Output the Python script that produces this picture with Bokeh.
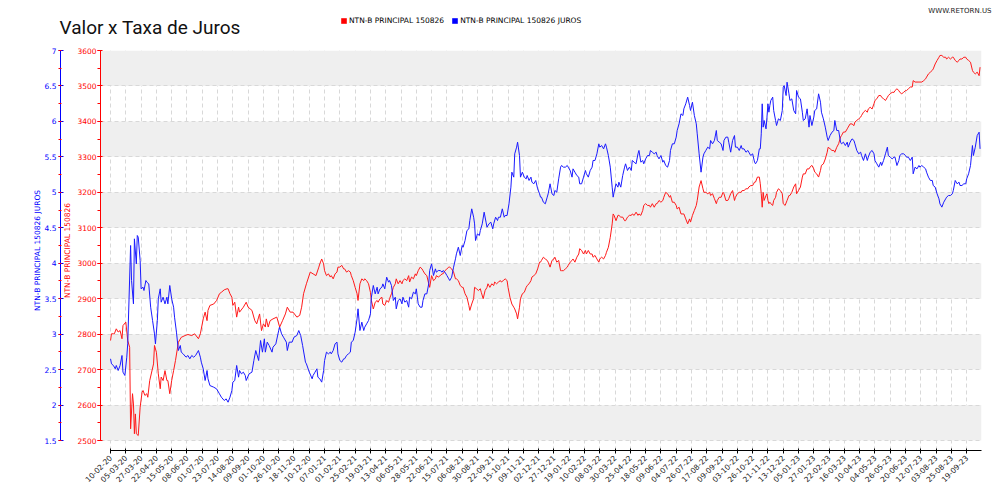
import math
from bokeh.plotting import figure
from bokeh.layouts import column
from bokeh.models import (Range1d, LinearAxis, FixedTicker, NumeralTickFormatter,
                          Legend, LegendItem, Label)
from bokeh.embed import file_html
from bokeh.resources import INLINE

# ---------------- data ----------------
tick_labels = ["10-02-20", "05-03-20", "27-03-20", "22-04-20", "15-05-20", "08-06-20", "01-07-20",
               "23-07-20", "14-08-20", "09-09-20", "01-10-20", "26-10-20", "18-11-20", "10-12-20",
               "07-01-21", "01-02-21", "25-02-21", "19-03-21", "13-04-21", "06-05-21", "28-05-21",
               "22-06-21", "15-07-21", "06-08-21", "30-08-21", "22-09-21", "15-10-21", "09-11-21",
               "02-12-21", "27-12-21", "19-01-22", "10-02-22", "08-03-22", "30-03-22", "25-04-22",
               "18-05-22", "09-06-22", "04-07-22", "26-07-22", "17-08-22", "09-09-22", "03-10-22",
               "26-10-22", "21-11-22", "13-12-22", "05-01-23", "27-01-23", "22-02-23", "16-03-23",
               "10-04-23", "04-05-23", "26-05-23", "20-06-23", "12-07-23", "03-08-23", "25-08-23",
               "19-09-23"]
tick_step = 16  # trading days between labelled dates

principal_ticks = [2500, 2600, 2700, 2800, 2900, 3000, 3100, 3200, 3300, 3400, 3500, 3600]
juros_ticks = [1.5, 2, 2.5, 3, 3.5, 4, 4.5, 5, 5.5, 6, 6.5, 7]

# NTN-B PRINCIPAL 150826 (price) : trading-day index, value
principal_day = [0, 1, 3, 4, 6, 8, 10, 12, 13, 16, 18, 20, 21, 23, 24, 25, 26, 27, 29, 31, 33, 34, 36,
                 38, 39, 41, 45, 46, 48, 50, 52, 53, 55, 57, 59, 60, 62, 64, 66, 68, 71, 74, 78, 81,
                 85, 88, 92, 94, 97, 99, 101, 102, 104, 108, 111, 114, 116, 119, 122, 123, 125, 127,
                 128, 130, 132, 134, 135, 139, 142, 144, 148, 151, 153, 155, 156, 158, 160, 162, 163,
                 165, 167, 170, 174, 177, 180, 183, 185, 188, 191, 195, 198, 200, 202, 205, 209, 212,
                 215, 218, 219,
                 221, 223, 224, 226, 228, 230, 231, 233, 235, 237, 238, 240, 242, 244, 245, 247, 249,
                 251, 252, 254, 256, 258, 259, 261, 263, 265, 266, 268, 270, 272, 273, 275, 277, 279,
                 280, 282, 284, 285, 287, 289, 291, 292, 294, 296, 298, 299, 301, 303, 305, 306, 308,
                 310, 312, 313, 315, 317, 319, 320, 322, 324, 326, 327, 329, 331, 333, 334, 336, 338,
                 340, 341, 343, 345, 347, 348, 350, 352, 354, 355, 357, 359, 361, 362, 364, 366, 368,
                 369, 371, 373, 375, 376, 378, 380, 381, 383, 385, 387, 388, 390, 392, 394, 395, 397,
                 399, 401, 402, 404, 406, 408, 409, 411, 413, 415, 416, 418, 420, 422, 423, 425, 426,
                 428, 429, 431, 433, 435, 436, 438, 440, 441, 443, 445, 447, 449,
                 450, 451, 453, 455, 457, 458, 460, 462, 464, 465, 467, 469, 471, 472, 474, 476, 478,
                 479, 481, 483, 484, 486, 488, 490, 491, 493, 495, 497, 498, 500, 502, 504, 505, 507,
                 509, 511, 512, 514, 516, 518, 519, 521, 523, 525, 526, 527, 529, 531, 532, 534, 536,
                 538, 539, 541, 543, 545, 546, 548, 550, 552, 553, 555, 557, 558, 560, 562, 564, 565,
                 567, 569, 571, 572, 574, 576, 578, 579, 581, 583, 585, 586, 588, 590, 592, 593, 595,
                 597, 599, 600, 602, 604, 606, 607, 609, 611, 613, 614, 616, 618, 620, 621, 623, 625,
                 627, 628, 630, 632, 634, 635, 637, 639, 641, 642, 644, 646, 647, 649, 651, 653, 654,
                 656, 658, 660, 661, 663, 665, 667, 668, 670, 672, 674, 675, 677, 679, 680,
                 681, 682, 683, 684, 686, 687, 688, 689, 690, 691, 693, 694, 696, 697, 699, 701, 703,
                 704, 706, 708, 710, 711, 713, 715, 717, 718, 720, 722, 724, 725, 727, 729, 731, 732,
                 734, 736, 737, 739, 741, 743, 744, 746, 748, 750, 751, 753, 755, 757, 758, 760, 762,
                 764, 765, 767, 769, 771, 772, 774, 776, 778, 779, 781, 783, 785, 786, 788, 790, 792,
                 793, 795, 797, 799, 800, 802, 804, 806, 807, 809, 811, 813, 814, 816, 818, 820, 821,
                 823, 825, 826, 828, 830, 832, 833, 835, 837, 839, 840, 842, 844, 846, 847, 849, 851,
                 853, 854, 856, 858, 860, 861, 863, 865, 867, 868, 870, 872, 874, 875, 877, 879, 881,
                 882, 884, 886, 888, 889, 891, 893, 895, 896, 898, 900, 902, 903, 905, 907, 909, 910]
principal = [2782, 2801, 2801, 2801, 2815, 2806, 2810, 2787, 2824, 2834, 2782, 2763, 2533, 2632, 2603,
             2519, 2575, 2519, 2514, 2594, 2636, 2641, 2627, 2632, 2622, 2669, 2716, 2768, 2749, 2688,
             2646, 2679, 2669, 2697, 2669, 2669, 2632, 2669, 2697, 2726, 2777, 2791, 2796, 2799, 2796,
             2801, 2787, 2801, 2843, 2862, 2838, 2867, 2881, 2885, 2895, 2914, 2918, 2925, 2928, 2928,
             2914, 2904, 2881, 2890, 2848, 2876, 2862, 2876, 2890, 2876, 2867, 2838, 2829, 2848, 2857,
             2810, 2829, 2820, 2843, 2820, 2838, 2843, 2848, 2820, 2838, 2857, 2876, 2862, 2862, 2848,
             2853, 2876, 2914, 2942, 2975, 2970, 2965, 2989, 2998,
             3012, 2998, 2979, 2965, 2970, 2961, 2965, 2956, 2970, 2975, 2989, 2989, 2994, 2984, 2984,
             2975, 2979, 2975, 2965, 2951, 2932, 2914, 2895, 2942, 2956, 2951, 2956, 2951, 2942, 2918,
             2895, 2871, 2890, 2895, 2890, 2900, 2904, 2885, 2881, 2895, 2890, 2900, 2914, 2932, 2942,
             2956, 2942, 2951, 2942, 2951, 2956, 2951, 2965, 2947, 2961, 2956, 2970, 2965, 2979, 2989,
             2984, 2979, 2970, 2965, 2942, 2932, 2965, 2951, 2956, 2965, 2961, 2965, 2970, 2970, 2979,
             2984, 2989, 2989, 2984, 2975, 2956, 2956, 2951, 2937, 2932, 2932, 2914, 2904, 2881, 2867,
             2885, 2900, 2932, 2928, 2923, 2928, 2918, 2900, 2923, 2932, 2942, 2932, 2942, 2937, 2947,
             2942, 2947, 2951, 2947, 2951, 2956, 2951, 2932, 2904, 2885, 2876, 2871, 2857, 2843, 2876,
             2900, 2914, 2918, 2932, 2937, 2942, 2951, 2961, 2965, 2970, 2984, 3003,
             3003, 3008, 3017, 3012, 3008, 3003, 2989, 3008, 3012, 3017, 3003, 3008, 2979, 2979, 2979,
             2984, 2989, 2994, 3003, 3008, 3012, 3003, 3017, 3026, 3041, 3036, 3026, 3036, 3026, 3036,
             3026, 3026, 3017, 3022, 3012, 3003, 3012, 3017, 3012, 3022, 3031, 3045, 3073, 3111, 3139,
             3135, 3120, 3135, 3135, 3130, 3130, 3120, 3120, 3130, 3135, 3135, 3139, 3135, 3144, 3135,
             3139, 3135, 3149, 3163, 3168, 3163, 3163, 3158, 3168, 3158, 3168, 3168, 3177, 3172, 3177,
             3186, 3200, 3196, 3186, 3191, 3172, 3172, 3163, 3153, 3158, 3139, 3139, 3139, 3125, 3111,
             3125, 3116, 3135, 3149, 3163, 3177, 3215, 3233, 3210, 3200, 3200, 3196, 3200, 3191, 3196,
             3182, 3168, 3177, 3186, 3186, 3200, 3196, 3177, 3177, 3182, 3196, 3205, 3177, 3186, 3196,
             3200, 3200, 3205, 3205, 3210, 3210, 3215, 3219, 3219, 3229, 3229, 3243, 3243, 3224,
             3196, 3158, 3200, 3177, 3191, 3196, 3177, 3168, 3172, 3168, 3163, 3177, 3186, 3200, 3210,
             3205, 3196, 3168, 3163, 3177, 3191, 3191, 3200, 3215, 3224, 3196, 3205, 3215, 3243, 3252,
             3252, 3266, 3266, 3271, 3276, 3266, 3257, 3252, 3243, 3262, 3276, 3280, 3294, 3313, 3327,
             3323, 3318, 3318, 3313, 3327, 3337, 3356, 3360, 3370, 3370, 3379, 3384, 3393, 3393, 3388,
             3398, 3403, 3407, 3412, 3417, 3426, 3431, 3426, 3435, 3440, 3435, 3450, 3459, 3464, 3473,
             3473, 3468, 3464, 3459, 3468, 3473, 3478, 3482, 3482, 3487, 3492, 3487, 3482, 3478, 3482,
             3487, 3487, 3492, 3497, 3497, 3515, 3511, 3511, 3511, 3511, 3511, 3515, 3520, 3525, 3534,
             3539, 3544, 3548, 3562, 3572, 3581, 3586, 3586, 3581, 3581, 3576, 3581, 3576, 3581, 3581,
             3572, 3567, 3572, 3576, 3576, 3581, 3581, 3576, 3572, 3567, 3544, 3539, 3534, 3539, 3529,
             3553]

# NTN-B PRINCIPAL 150826 JUROS (yield, %) : trading-day index, value
juros_day = [0, 1, 3, 5, 6, 8, 10, 12, 13, 15, 17, 18, 21, 22, 24, 25, 27, 28, 29, 31, 32, 34, 35, 37,
             38, 40, 42, 44, 46, 47, 49, 50, 52, 53, 55, 57, 59, 60, 62, 64, 66, 67, 69, 71, 73, 74,
             76, 79, 81, 83, 85, 87, 89, 92, 94, 95, 97, 99, 101, 102, 104, 108, 111, 114, 116, 119,
             121, 123, 125, 127, 128, 130, 132, 134, 135, 137, 139, 141, 142, 145, 148, 150, 152, 155,
             157, 159, 161, 162, 164, 166, 169, 170, 173, 176, 177, 179, 181, 184, 185, 187, 190, 192,
             195, 197, 199, 201, 204, 205, 208, 211, 212, 214, 216, 217, 219,
             221, 223, 224, 226, 228, 230, 231, 233, 235, 237, 238, 240, 242, 244, 245, 247, 249, 251,
             252, 254, 256, 258, 259, 261, 263, 265, 266, 268, 270, 272, 273, 275, 277, 279, 280, 282,
             284, 285, 287, 289, 291, 292, 294, 296, 298, 299, 301, 303, 305, 306, 308, 310, 312, 313,
             315, 317, 319, 320, 322, 324, 326, 327, 329, 331, 333, 334, 336, 338, 340, 341, 343, 345,
             347, 348, 350, 352, 354, 355, 357, 359, 361, 362, 364, 366, 368, 369, 371, 373, 375, 376,
             378, 380, 381, 382, 384, 386, 387, 389, 391, 393, 394, 396, 398, 400, 401, 403, 405, 406,
             408, 410, 412, 413, 415, 417, 419, 420, 422, 423, 425, 426, 428, 429, 431, 433, 435, 436,
             438, 440, 441, 443, 445, 447, 449,
             450, 451, 453, 455, 457, 458, 460, 462, 464, 465, 467, 469, 471, 472, 474, 476, 478, 479,
             481, 483, 484, 486, 488, 490, 491, 493, 495, 497, 498, 500, 502, 504, 505, 507, 509, 511,
             512, 514, 516, 518, 519, 521, 523, 525, 526, 527, 529, 531, 532, 534, 536, 538, 539, 541,
             543, 545, 546, 548, 550, 552, 553, 555, 557, 558, 560, 562, 564, 565, 567, 569, 571, 572,
             574, 576, 578, 579, 581, 583, 585, 586, 588, 590, 592, 593, 595, 597, 599, 600, 602, 604,
             606, 607, 609, 611, 613, 614, 616, 618, 620, 621, 623, 625, 627, 628, 630, 632, 634, 635,
             637, 639, 641, 642, 644, 646, 647, 649, 651, 653, 654, 656, 658, 660, 661, 663, 665, 667,
             668, 670, 672, 674, 675, 677, 679, 680,
             681, 682, 683, 684, 686, 687, 688, 689, 690, 691, 693, 694, 696, 697, 699, 701, 703, 704,
             705, 707, 708, 710, 711, 713, 715, 717, 718, 720, 722, 724, 725, 727, 729, 731, 732, 734,
             736, 737, 739, 741, 743, 744, 746, 748, 750, 751, 753, 755, 757, 758, 760, 762, 764, 765,
             767, 769, 771, 772, 774, 776, 778, 779, 781, 783, 785, 786, 788, 790, 792, 793, 795, 797,
             799, 800, 802, 804, 806, 807, 809, 811, 813, 814, 816, 818, 820, 821, 823, 825, 826, 828,
             830, 832, 833, 835, 837, 839, 840, 842, 844, 846, 847, 849, 851, 853, 854, 856, 858, 860,
             861, 863, 865, 867, 868, 870, 872, 874, 875, 877, 879, 881, 882, 884, 886, 888, 889, 891,
             893, 895, 896, 898, 900, 902, 903, 905, 907, 909, 910]
juros = [2.652, 2.581, 2.558, 2.511, 2.558, 2.487, 2.558, 2.699, 2.464, 2.417, 2.675, 2.863, 4.250,
         3.756, 3.427, 4.344, 3.991, 4.391, 4.367, 4.038, 3.639, 3.662, 3.615, 3.756, 3.733, 3.709,
         3.380, 3.192, 3.004, 2.863, 3.192, 3.498, 3.639, 3.451, 3.521, 3.427, 3.521, 3.427, 3.686,
         3.498, 3.380, 3.239, 3.028, 2.769, 2.840, 2.746, 2.722, 2.675, 2.699, 2.652, 2.699, 2.675,
         2.699, 2.769, 2.675, 2.605, 2.511, 2.346, 2.487, 2.370, 2.275, 2.252, 2.228, 2.158, 2.111,
         2.064, 2.087, 2.040, 2.111, 2.205, 2.323, 2.346, 2.558, 2.393, 2.487, 2.440, 2.464, 2.417,
         2.346, 2.440, 2.464, 2.628, 2.769, 2.628, 2.910, 2.746, 2.934, 2.746, 2.887, 2.840, 2.746,
         2.816, 2.863, 3.051, 3.098, 3.004, 2.957, 2.887, 2.769, 2.887, 2.887, 2.957, 2.981, 3.051,
         2.981, 2.840, 2.605, 2.581, 2.464, 2.370, 2.417, 2.464, 2.511, 2.393, 2.370,
         2.323, 2.487, 2.628, 2.746, 2.722, 2.746, 2.722, 2.769, 2.863, 2.887, 2.722, 2.628, 2.605,
         2.652, 2.652, 2.699, 2.722, 2.746, 2.887, 2.910, 3.028, 3.216, 3.357, 3.051, 3.169, 3.051,
         3.098, 3.145, 3.192, 3.286, 3.521, 3.686, 3.568, 3.662, 3.568, 3.639, 3.662, 3.709, 3.639,
         3.803, 3.733, 3.756, 3.686, 3.474, 3.521, 3.357, 3.474, 3.498, 3.427, 3.521, 3.451, 3.474,
         3.380, 3.521, 3.498, 3.592, 3.568, 3.639, 3.427, 3.380, 3.380, 3.474, 3.568, 3.568, 3.709,
         3.897, 3.991, 3.827, 3.921, 3.874, 3.897, 3.897, 3.874, 3.897, 3.874, 3.827, 3.780, 3.756,
         3.803, 3.944, 4.062, 4.132, 4.226, 4.109, 4.250, 4.226, 4.320, 4.461, 4.485, 4.602, 4.767,
         4.649, 4.555, 4.320, 4.414, 4.391, 4.461, 4.555, 4.720, 4.579, 4.508, 4.555, 4.579, 4.485,
         4.555, 4.649, 4.602, 4.649, 4.649, 4.767, 4.649, 4.673, 4.673, 4.838, 5.073, 5.284, 5.214,
         5.543, 5.637, 5.707, 5.519, 5.214, 5.284, 5.214, 5.190, 5.237, 5.167, 5.214, 5.143, 5.120,
         5.167, 5.049, 4.979,
         4.932, 4.932, 4.861, 4.838, 4.932, 4.979, 5.120, 4.979, 4.955, 5.026, 5.002, 5.190, 5.355,
         5.378, 5.355, 5.355, 5.378, 5.355, 5.308, 5.214, 5.331, 5.284, 5.237, 5.214, 5.120, 5.120,
         5.214, 5.308, 5.261, 5.214, 5.308, 5.355, 5.449, 5.449, 5.543, 5.684, 5.637, 5.660, 5.613,
         5.684, 5.637, 5.519, 5.355, 5.073, 4.932, 5.002, 5.120, 5.073, 5.143, 5.073, 5.237, 5.355,
         5.402, 5.308, 5.355, 5.308, 5.449, 5.425, 5.402, 5.543, 5.590, 5.425, 5.449, 5.402, 5.472,
         5.519, 5.519, 5.590, 5.566, 5.543, 5.566, 5.519, 5.472, 5.519, 5.425, 5.449, 5.378, 5.355,
         5.449, 5.590, 5.684, 5.684, 5.778, 5.872, 5.966, 6.107, 6.083, 6.177, 6.248, 6.342, 6.224,
         6.154, 6.271, 6.083, 5.966, 5.825, 5.543, 5.284, 5.496, 5.543, 5.590, 5.637, 5.613, 5.731,
         5.684, 5.731, 5.872, 5.731, 5.707, 5.684, 5.590, 5.731, 5.778, 5.778, 5.707, 5.566, 5.731,
         5.801, 5.637, 5.637, 5.590, 5.660, 5.613, 5.613, 5.566, 5.590, 5.566, 5.519, 5.543, 5.425,
         5.402, 5.449, 5.613, 5.613,
         5.825, 6.248, 5.919, 6.013, 5.895, 6.060, 6.248, 6.130, 6.224, 6.295, 6.342, 6.154, 6.013,
         5.942, 6.036, 6.013, 6.154, 6.483, 6.506, 6.365, 6.553, 6.389, 6.295, 6.318, 6.154, 6.107,
         6.436, 6.342, 6.318, 6.130, 6.013, 6.036, 6.177, 5.919, 6.083, 5.942, 6.060, 6.154, 6.177,
         6.389, 6.271, 6.130, 6.036, 5.919, 5.778, 5.731, 5.801, 5.848, 5.872, 6.013, 5.872, 5.872,
         5.707, 5.684, 5.707, 5.660, 5.707, 5.637, 5.707, 5.754, 5.731, 5.684, 5.590, 5.543, 5.566,
         5.519, 5.449, 5.543, 5.449, 5.496, 5.566, 5.590, 5.543, 5.449, 5.402, 5.355, 5.425, 5.378,
         5.449, 5.543, 5.637, 5.519, 5.496, 5.472, 5.496, 5.496, 5.378, 5.449, 5.519, 5.543, 5.543,
         5.519, 5.496, 5.496, 5.449, 5.496, 5.261, 5.355, 5.331, 5.378, 5.355, 5.378, 5.355, 5.331,
         5.284, 5.214, 5.167, 5.167, 5.096, 5.073, 4.979, 4.908, 4.838, 4.791, 4.861, 4.908, 4.932,
         4.955, 4.955, 4.979, 5.026, 5.167, 5.120, 5.143, 5.096, 5.096, 5.120, 5.120, 5.190, 5.261,
         5.378, 5.660, 5.519, 5.637, 5.801, 5.848, 5.613]

# ---------------- styling ----------------
RED = "#ff1a1a"
BLUE = "#1a1aff"
FONT = "DejaVu Sans"
NAN = float("nan")

# ---------------- header (title, legend, site mark) ----------------
head = figure(width=1000, height=45, output_backend="svg", toolbar_location=None,
              x_range=Range1d(0, 1000), y_range=Range1d(0, 45),
              x_axis_type=None, y_axis_type=None, min_border=0,
              background_fill_color="white", border_fill_color="white")
head.outline_line_color = None
head.frame_align = False

# legend swatches (no visible geometry; only their legend squares are drawn)
sw_r = head.quad(left=[NAN], right=[NAN], bottom=[NAN], top=[NAN], fill_color="red", line_color=None)
sw_b = head.quad(left=[NAN], right=[NAN], bottom=[NAN], top=[NAN], fill_color="blue", line_color=None)
legend = Legend(items=[LegendItem(label="NTN-B PRINCIPAL 150826", renderers=[sw_r]),
                       LegendItem(label="NTN-B PRINCIPAL 150826 JUROS", renderers=[sw_b])],
                orientation="horizontal", location=(340, 20),
                glyph_width=7, glyph_height=7, label_standoff=2, spacing=7,
                padding=0, margin=0, border_line_color=None, background_fill_alpha=0,
                label_text_font=FONT, label_text_font_size="7.5px", label_text_color="black",
                label_height=7)
head.add_layout(legend)

head.add_layout(Label(x=59, y=7, x_units="screen", y_units="screen", text="Valor x Taxa de Juros",
                      text_font="Roboto", text_font_size="19px", text_color="#111111",
                      text_baseline="bottom"))
head.add_layout(Label(x=991, y=35, x_units="screen", y_units="screen", text="WWW.RETORN.US",
                      text_font=FONT, text_font_size="7px", text_color="#222222",
                      text_align="right", text_baseline="alphabetic"))

# ---------------- main chart ----------------
tick_days = [i * tick_step for i in range(len(tick_labels))]

p = figure(width=1000, height=455, output_backend="svg", toolbar_location=None,
           x_range=Range1d(-10.5, 911.5), y_range=Range1d(2471.8, 3600),
           min_border_left=100, min_border_right=19, min_border_top=5, min_border_bottom=50,
           background_fill_color="white", border_fill_color="white")
p.outline_line_color = None
p.frame_align = False
p.extra_y_ranges = {"juros": Range1d(1.359, 7)}

# x axis
xa = p.xaxis[0]
xa.ticker = FixedTicker(ticks=tick_days)
xa.major_label_overrides = {d: lab for d, lab in zip(tick_days, tick_labels)}
xa.major_label_orientation = math.pi / 4
xa.bounds = (0, 911.5)
xa.axis_line_color = "black"
xa.major_tick_line_color = "black"
xa.major_tick_in = 2
xa.major_tick_out = 3
xa.minor_tick_line_color = None
xa.major_label_text_font = FONT
xa.major_label_text_font_size = "7.5px"
xa.major_label_text_color = "#222222"
xa.major_label_standoff = 3

# red (principal) axis
ya = p.yaxis[0]
ya.ticker = FixedTicker(ticks=principal_ticks,
                        minor_ticks=[t + 50 for t in principal_ticks[:-1]] + principal_ticks)
ya.bounds = (2500, 3600)
ya.axis_line_color = "red"
ya.major_tick_line_color = "red"
ya.minor_tick_line_color = "red"
ya.major_tick_in = 2
ya.major_tick_out = 3
ya.minor_tick_in = 0
ya.minor_tick_out = 3
ya.major_label_standoff = 1
ya.major_label_text_color = "red"
ya.major_label_text_font = FONT
ya.major_label_text_font_size = "7.5px"
ya.axis_label = "NTN-B PRINCIPAL 150826"
ya.axis_label_text_color = "red"
ya.axis_label_text_font = FONT
ya.axis_label_text_font_size = "7.5px"
ya.axis_label_text_font_style = "normal"
ya.axis_label_standoff = 2

# blue (juros) axis
yb = LinearAxis(y_range_name="juros",
                ticker=FixedTicker(ticks=juros_ticks,
                                   minor_ticks=[t + 0.25 for t in juros_ticks[:-1]] + juros_ticks),
                formatter=NumeralTickFormatter(format="0.[0]"))
yb.bounds = (1.5, 7)
yb.axis_line_color = "blue"
yb.major_tick_line_color = "blue"
yb.minor_tick_line_color = "red"
yb.major_tick_in = 3
yb.major_tick_out = 2
yb.minor_tick_in = 1
yb.minor_tick_out = 2
yb.major_label_standoff = 2
yb.major_label_text_color = "blue"
yb.major_label_text_font = FONT
yb.major_label_text_font_size = "7.5px"
yb.axis_label = "NTN-B PRINCIPAL 150826 JUROS"
yb.axis_label_text_color = "blue"
yb.axis_label_text_font = FONT
yb.axis_label_text_font_size = "7.5px"
yb.axis_label_text_font_style = "normal"
yb.axis_label_standoff = 0
p.add_layout(yb, "left")

# grids
p.xgrid.grid_line_color = "#d8d8d8"
p.xgrid.grid_line_dash = "4 3"
p.ygrid.grid_line_color = "#d8d8d8"
p.ygrid.grid_line_dash = "4 3"
p.ygrid.band_fill_color = "#efefef"
p.ygrid.band_fill_alpha = 1.0

# series
p.line(principal_day, principal, line_color=RED, line_width=1)
p.line(juros_day, juros, y_range_name="juros", line_color=BLUE, line_width=1)

page = column(head, p, spacing=0)
open("out.html", "w").write(file_html(page, INLINE))
